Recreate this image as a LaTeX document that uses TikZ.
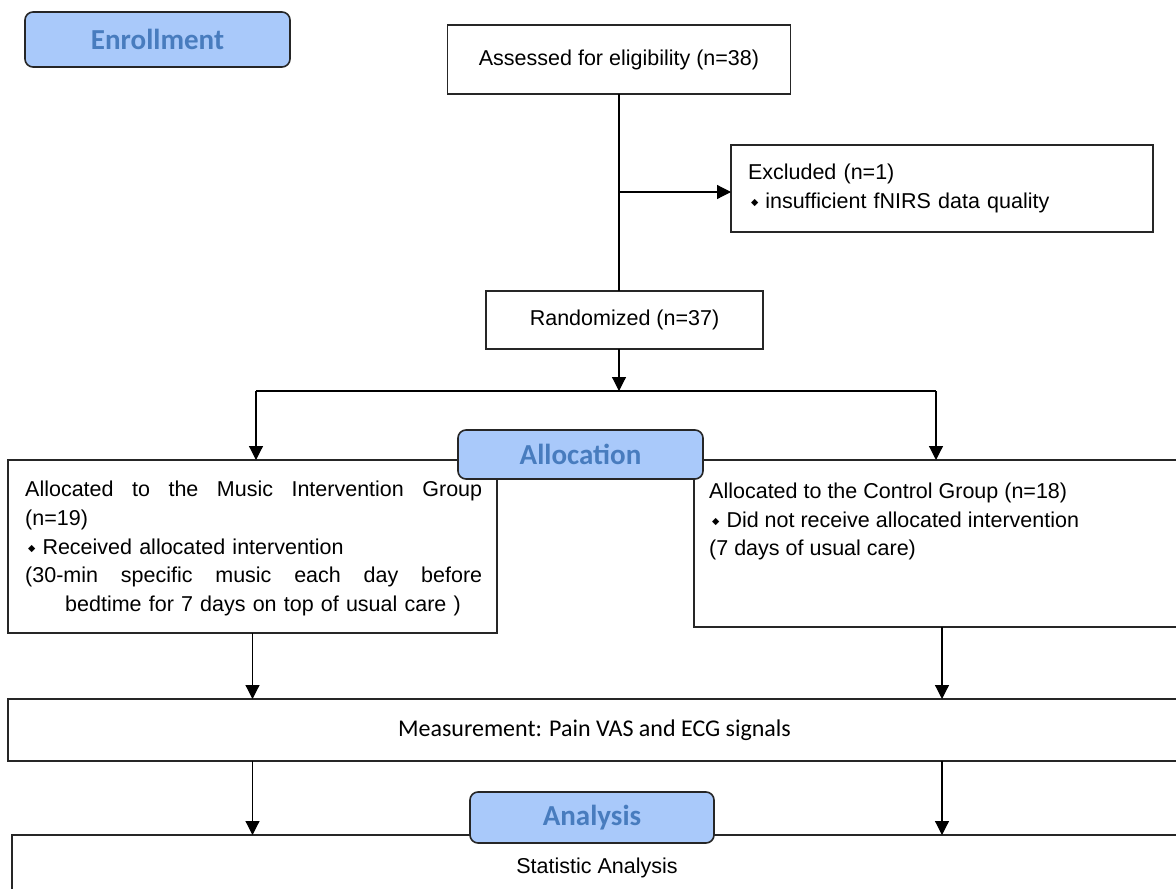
\documentclass[tikz,border=0pt]{standalone}
\usepackage{fontspec}
\setmainfont{Liberation Sans}
\newfontfamily\carl{Carlito}
\newfontfamily\djv{DejaVu Sans}
\usetikzlibrary{arrows.meta,calc}
\definecolor{hdrfill}{RGB}{169,201,250}
\definecolor{hdrtext}{RGB}{72,124,190}
\newcommand{\bul}{\hspace*{3pt}\raisebox{2.5pt}{\djv\fontsize{9.5}{9.5}\selectfont ◆}\hspace{7pt}}
\begin{document}
\begin{tikzpicture}[x=1pt,y=-1pt,
 box/.style={draw=black!85, line width=1.5pt, fill=white, inner sep=0pt, outer sep=0pt},
 hdr/.style={draw=black!85, line width=1.6pt, fill=hdrfill, text=hdrtext, rounded corners=8pt, inner sep=0pt, outer sep=0pt, font=\carl\bfseries\fontsize{29}{30}\selectfont},
 txt/.style={font=\fontsize{21.5}{28.6}\selectfont},
 arr/.style={line width=1.2pt, -{Triangle[length=14pt,width=14pt]}},
 ln/.style={line width=1.2pt}]
\clip (0,0) rectangle (1176,889);
\fill[white] (0,0) rectangle (1176,889);

\node[hdr, minimum width=265pt, minimum height=55pt] (enr) at (157.5,39.5) {Enrollment};
\node[box, txt, minimum width=343pt, minimum height=69pt] (assess) at (619,59.5) {Assessed for eligibility (n=38)};
\node[box, txt, minimum width=422pt, minimum height=87pt, text width=388pt, align=left, inner xsep=17pt] (excl) at (942,188.5) {Excluded (n=1)\\\bul insufficient fNIRS data quality};
\node[box, txt, minimum width=277pt, minimum height=58pt] (rand) at (624.5,320) {Randomized (n=37)};

\node[box, minimum width=489pt, minimum height=173pt] (music) at (252.5,546.5) {};
\node[txt, anchor=west, align=left, inner sep=0pt, text width=457pt] (musictxt) at (25,548.5)
 {\leavevmode\hbox to 457pt{Allocated\hfill to\hfill the\hfill Music\hfill Intervention\hfill Group}\\
  (n=19)\\
  \bul Received allocated intervention\\
  \leavevmode\hbox to 457pt{(30-min\hfill specific\hfill music\hfill each\hfill day\hfill before}\\
  \hspace*{40pt}bedtime for 7 days on top of usual care )};
\node[box, minimum width=496pt, minimum height=167pt] (ctrl) at (942,543.5) {};
\node[txt, anchor=west, align=left, inner sep=0pt] (ctrltxt) at (709,521.5)
 {Allocated to the Control Group (n=18)\\\bul Did not receive allocated intervention\\(7 days of usual care)};
\node[hdr, minimum width=245pt, minimum height=49pt] (alloc) at (580.5,454.5) {Allocation};

\node[box, minimum width=1173pt, minimum height=62pt, font=\carl\fontsize{24}{25}\selectfont] (meas) at (594.5,730) {Measurement: Pain VAS and ECG signals};
\node[box, txt, minimum width=1170pt, minimum height=65pt] (stat) at (597,867.5) {Statistic Analysis};
\node[hdr, minimum width=244pt, minimum height=51pt] (anal) at (592,817.5) {Analysis};

% connectors
\coordinate (exb) at (619,192);
\coordinate (split) at (619,391);
\coordinate (sl) at (256,391);
\coordinate (sr) at (936,391);
\draw[ln] (assess.south) -- (assess.south |- rand.north);
\draw[arr] (exb) -- (excl.west |- exb);
\draw[arr] (rand.south -| split) -- (split);
\draw[ln] (sl) -- (sr);
\draw[arr] (sl) -- (sl |- music.north);
\draw[arr] (sr) -- (sr |- ctrl.north);
\draw[arr] (music.south) -- (music.south |- meas.north);
\draw[arr] (ctrl.south) -- (ctrl.south |- meas.north);
\draw[arr] (meas.south -| music.south) -- (music.south |- stat.north);
\draw[arr] (meas.south -| ctrl.south) -- (ctrl.south |- stat.north);
\end{tikzpicture}
\end{document}
